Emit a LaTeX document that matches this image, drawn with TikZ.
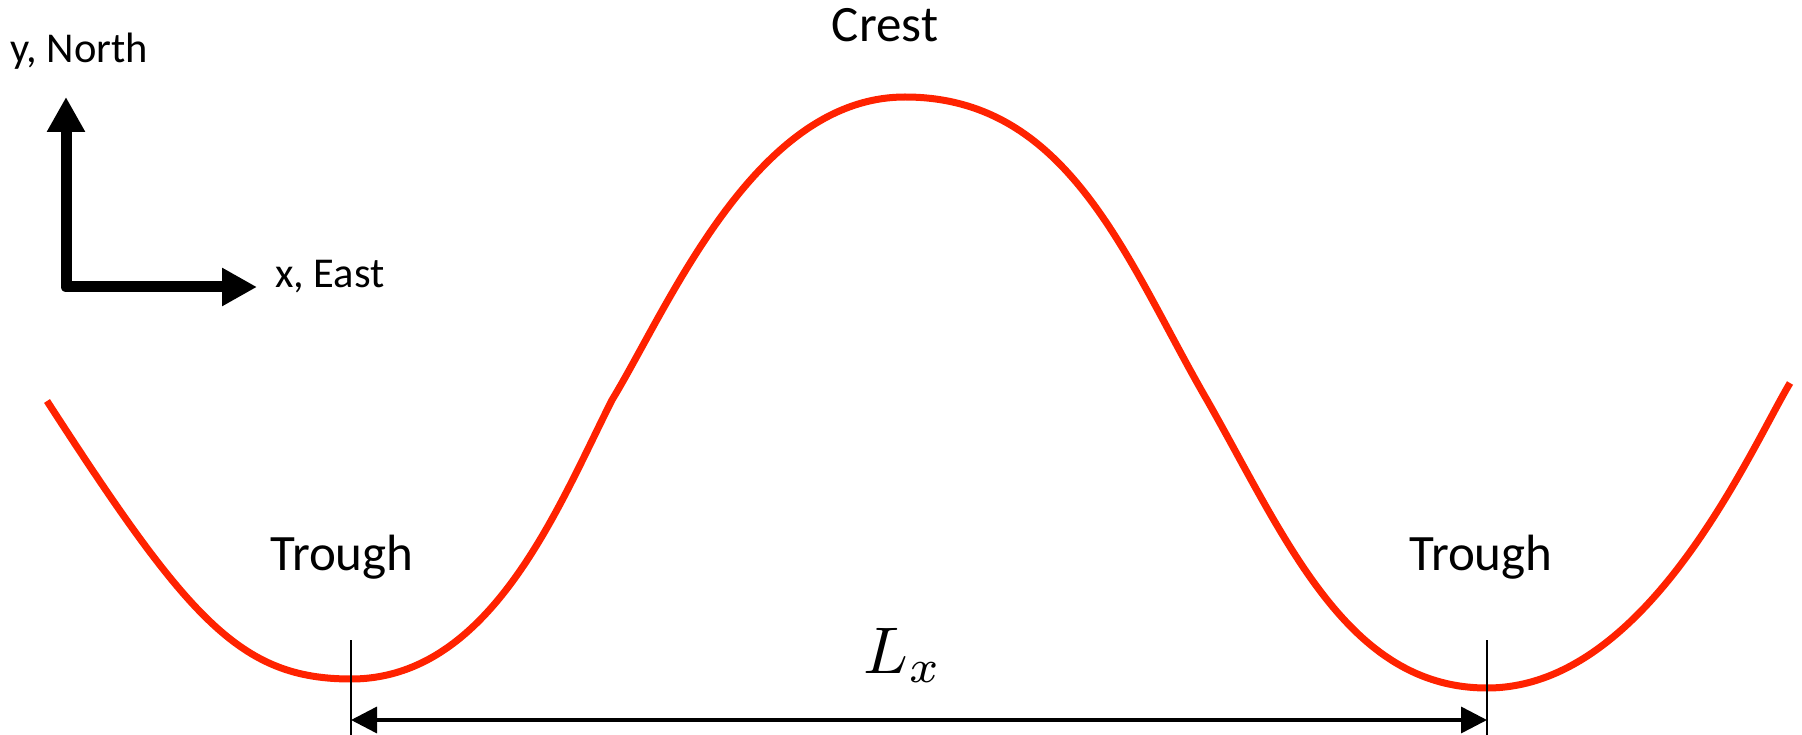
\documentclass[tikz,border=0pt]{standalone}
\usepackage{fontspec}
\setmainfont{Carlito}
\usetikzlibrary{arrows.meta}
\definecolor{wavered}{RGB}{255,34,0}
\tikzset{
  axisarrow/.style={line width=11pt, line join=round, line cap=round,
    {Triangle[length=35pt,width=36pt]}-{Triangle[length=35pt,width=36pt]}},
  biglabel/.style={inner sep=0pt, anchor=base, font=\fontsize{51}{55}\selectfont},
  axislabel/.style={inner sep=0pt, anchor=base west, font=\fontsize{42.5}{46}\selectfont},
  wave/.style={wavered, line width=7pt},
  tick/.style={black, line width=2pt},
  dimarrow/.style={line width=3.5pt, {Triangle[length=26pt,width=26pt]}-{Triangle[length=26pt,width=26pt]}}
}
\begin{document}
\begin{tikzpicture}[x=1pt,y=-1pt]
\useasboundingbox (0,0) rectangle (1802,735);
% axes
\coordinate (north) at (66,97);
\coordinate (east) at (257,287);
\draw[axisarrow] (north) |- (east);
\node[axislabel] (ylab) at (10,63) {y, North};
\node[axislabel] (xlab) at (275,288) {x, East};
% wave
\coordinate (w0) at (47,401);
\coordinate (tL) at (351,679);
\coordinate (k1) at (612,400);
\coordinate (cr) at (905,97);
\coordinate (k2) at (1207,400);
\coordinate (tR) at (1487,688);
\coordinate (w1) at (1790,383);
\draw[wave] (w0) .. controls (188,619) and (240,679) .. (tL)
  .. controls (491,679) and (558,507) .. (k1)
  .. controls (669,306) and (755,97) .. (cr)
  .. controls (1070,97) and (1127,262) .. (k2)
  .. controls (1286,539) and (1347,688) .. (tR)
  .. controls (1647,688) and (1749,452) .. (w1);
% labels
\node[biglabel] (crest) at (885,42) {Crest};
\node[biglabel] (troughL) at (342,570) {Trough};
\node[biglabel] (troughR) at (1481,570) {Trough};
% dimension
\coordinate (tlTop) at (351,640);
\coordinate (tlBot) at (351,735);
\coordinate (trTop) at (1487,640);
\coordinate (trBot) at (1487,735);
\draw[tick] (tlTop) -- (tlBot);
\draw[tick] (trTop) -- (trBot);
\coordinate (dl) at (351,720);
\coordinate (dr) at (1487,720);
\draw[dimarrow] (dl) -- (dr);
\node[inner sep=0pt, anchor=base, scale=6.6] (lx) at (903,673) {$L_x$};
\end{tikzpicture}
\end{document}
